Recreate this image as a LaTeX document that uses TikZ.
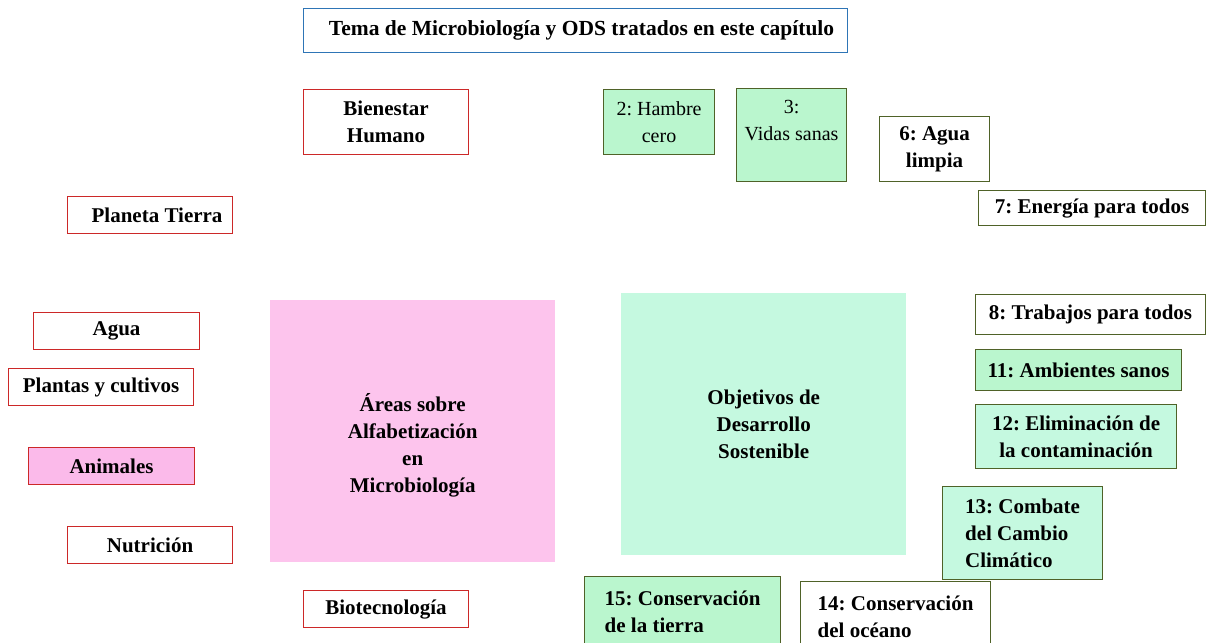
\documentclass[tikz,border=0pt]{standalone}
\usepackage{fontspec}
\setmainfont{Liberation Serif}
\frenchspacing
\definecolor{titleblue}{RGB}{46,117,182}
\definecolor{topicred}{RGB}{204,40,40}
\definecolor{odsgreen}{RGB}{79,98,40}
\definecolor{odsfill}{RGB}{186,246,206}
\definecolor{odsmint}{RGB}{197,249,224}
\definecolor{areapink}{RGB}{253,196,237}
\definecolor{animalpink}{RGB}{251,186,234}
\tikzset{
    box/.style={draw, line width=1.1pt, inner sep=0pt, anchor=north west, align=center,
        font=\fontsize{21}{27}\selectfont\bfseries},
    topic/.style={box, draw=topicred},
    ods/.style={box, draw=odsgreen},
    odsfilled/.style={ods, fill=odsfill},
    odsmintbox/.style={ods, fill=odsmint},
    bigarea/.style={inner sep=0pt, anchor=north west, align=center,
        minimum width=285pt, minimum height=262pt, font=\fontsize{21}{27}\selectfont\bfseries}
}
\begin{document}
\begin{tikzpicture}[x=1pt, y=-1pt]
        \useasboundingbox (0,0) rectangle (1206,642);

        \node[box, draw=titleblue, minimum width=544pt, minimum height=44pt,
            font=\fontsize{21.5}{24}\selectfont\bfseries] (tema) at (303, 8)
            {\hspace{12pt}Tema de Microbiología y ODS tratados en este capítulo};

        \node[topic, minimum width=165pt, minimum height=65pt] (bienestar) at (303, 89)
            {Bienestar\\Humano};
        \node[topic, minimum width=165pt, minimum height=37pt] (planeta) at (67, 196)
            {\hspace{14pt}Planeta Tierra};
        \node[topic, minimum width=166pt, minimum height=37pt] (agua) at (33, 312)
            {Agua};
        \node[topic, minimum width=185pt, minimum height=37pt] (plantas) at (8, 368)
            {Plantas y cultivos};
        \node[topic, fill=animalpink, minimum width=166pt, minimum height=37pt] (animales) at (28, 447)
            {Animales};
        \node[topic, minimum width=165pt, minimum height=37pt] (nutricion) at (67, 526)
            {Nutrición};
        \node[topic, minimum width=165pt, minimum height=37pt] (biotec) at (303, 590)
            {Biotecnología};

        \node[bigarea, fill=areapink] (areas) at (270, 300)
            {\rule{0pt}{46pt}Áreas sobre\\Alfabetización\\en\\Microbiología};
        \node[bigarea, fill=odsmint] (objetivos) at (621, 293)
            {Objetivos de\\Desarrollo\\Sostenible};

        \node[odsfilled, minimum width=111pt, minimum height=65pt,
            font=\fontsize{20}{27}\selectfont] (hambre) at (603, 89)
            {2: Hambre\\cero};
        \node[odsfilled, minimum width=110pt, minimum height=93pt,
            font=\fontsize{20}{27}\selectfont] (vidas) at (736, 88)
            {3:\\Vidas sanas\rule[-30pt]{0pt}{0pt}};
        \node[ods, minimum width=110pt, minimum height=65pt] (limpia) at (879, 116)
            {6: Agua\\limpia};
        \node[ods, minimum width=227pt, minimum height=35pt] (energia) at (978, 190)
            {7: Energía para todos};
        \node[ods, minimum width=230pt, minimum height=40pt] (trabajos) at (975, 294)
            {8: Trabajos para todos};
        \node[odsfilled, minimum width=206pt, minimum height=41pt] (ambientes) at (975, 349)
            {11: Ambientes sanos};
        \node[odsmintbox, minimum width=201pt, minimum height=64pt] (eliminacion) at (975, 404)
            {12: Eliminación de\\la contaminación};
        \node[odsmintbox, align=left, minimum width=160pt, minimum height=93pt] (clima) at (942, 486)
            {13: Combate\\del Cambio\\Climático};
        \node[odsfilled, align=left, minimum width=196pt, minimum height=70pt] (tierra) at (584, 576)
            {15: Conservación\\de la tierra};
        \node[ods, align=left, minimum width=190pt, minimum height=70pt] (oceano) at (800, 581)
            {14: Conservación\\del océano};
    \end{tikzpicture}
\end{document}
